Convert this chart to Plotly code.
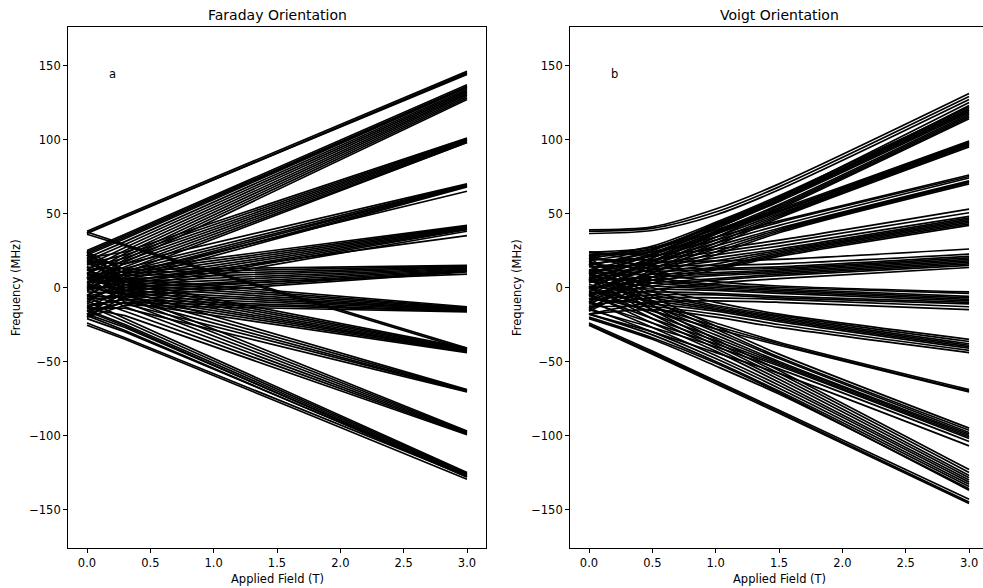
import plotly.graph_objects as go

# ---------------- data ----------------
FIELD_FARADAY = [0.0, 0.3, 3.0]          # Applied field (T)
FIELD_VOIGT = [0.0, 0.5, 1.0, 1.5, 3.0]  # Applied field (T)

# Faraday orientation: frequency (MHz) of each level at FIELD_FARADAY
FARADAY_145 = [[38, 49, 146], [37, 48, 144], [36.5, 47.5, 145]]
FARADAY_CROSS = [[36, 28, -42], [37.5, 29, -41]]
FARADAY_130 = [[25, 36, 137], [24, 35, 136], [23, 34, 135.5], [22, 33, 135], [20, 31, 134],
               [18, 29, 133], [15, 27, 132], [12, 25, 131], [9, 23, 130], [6, 21, 129],
               [3, 19, 128], [0, 17, 127]]
FARADAY_100 = [[20, 24, 101], [16, 22, 100.5], [13, 20, 100], [10, 18, 99.5], [6, 16, 99],
               [2, 14, 98.5], [-2, 12, 98], [-6, 10, 98]]
FARADAY_68 = [[18, 16, 70], [12, 13, 69.5], [6, 11, 69], [0, 9, 69], [-5, 7, 68.5],
              [-10, 5, 68], [4, 9, 65]]
FARADAY_40 = [[22, 12, 42], [16, 10, 41.5], [10, 8, 41], [4, 6, 40.5], [-2, 4, 40],
              [-8, 2, 39.5], [-14, 0, 39], [-18, -2, 38], [8, 4, 35]]
FARADAY_12 = [[24, 12, 15], [19, 10, 14.5], [14, 8, 14], [9, 6, 13.5], [4, 4, 13],
              [-1, 2, 12.5], [-6, 0, 12], [-11, -2, 11.5], [-16, -4, 11], [-20, -6, 10.5],
              [0, 0, 9]]
FARADAY_M14 = [[22, 6, -13], [17, 4, -13.5], [12, 2, -14], [7, 0, -14.5], [2, -2, -15],
               [-3, -4, -15], [-8, -6, -15.5], [-13, -8, -16], [-18, -10, -16], [-20, -12, -16.5]]
FARADAY_M42 = [[24, 4, -41], [18, 2, -41.5], [12, 0, -42], [6, -2, -42.5], [0, -4, -43],
               [-6, -6, -43], [-12, -8, -43.5], [-16, -10, -44]]
FARADAY_M70 = [[20, -2, -69], [10, -5, -69.5], [2, -8, -70], [-6, -11, -70], [-14, -14, -70.5]]
FARADAY_M98 = [[22, -4, -97], [14, -7, -97.5], [7, -10, -98], [0, -13, -98.5],
               [-7, -16, -99], [-14, -19, -99.5]]
FARADAY_M127 = [[-24, -34, -127.5], [-25.5, -35, -129.5], [-21, -30, -127], [-18, -27, -126.5],
                [-15, -25, -126], [-12, -23, -125.5], [-9, -21, -125], [-19, -29, -128],
                [-16, -26, -128]]

# Voigt orientation: frequency (MHz) of each level at FIELD_VOIGT
VOIGT_120 = [[39, 41, 53, 70, 131], [38, 40, 51, 68, 129], [36.5, 38.5, 49, 66, 127],
             [24, 27, 42, 61, 125], [22.5, 26, 40, 59, 123], [21, 28, 44, 62, 122],
             [18, 26, 43, 61, 121], [15, 25, 42, 60, 120], [12, 23, 41, 59, 119],
             [9, 22, 40, 58, 118], [6, 20, 38, 56, 117], [3, 18, 37, 55, 116],
             [0, 17, 36, 54, 115], [-3, 15, 34, 53, 114]]
VOIGT_97 = [[20, 26, 39, 53, 99], [15, 24, 38, 52, 98.5], [10, 22, 37, 51.5, 98],
            [5, 20, 36, 51, 97.5], [0, 18, 34, 50, 97], [-5, 15, 32, 49, 96.5],
            [-10, 12, 30, 48, 96], [-15, 10, 28, 47, 95]]
VOIGT_73 = [[22, 24, 34, 45, 76], [16, 21, 32, 44, 75], [10, 18, 30, 42, 74],
            [4, 16, 28, 40, 72], [-2, 13, 26, 39, 71.5], [-8, 10, 24, 38, 71],
            [-14, 7, 22, 37, 70]]
VOIGT_48 = [[24, 22, 26, 32, 53], [19, 19, 24, 30, 50.5], [14, 16, 22, 28, 48],
            [9, 14, 20, 26, 47], [4, 12, 18, 25, 46], [-1, 9, 16, 24, 45],
            [-6, 7, 14, 23, 44], [-11, 5, 13, 22, 43], [-16, 3, 12, 21, 42]]
VOIGT_20 = [[24, 18, 18, 19, 26], [20, 15, 15, 16, 22.5], [16, 13, 13, 14, 21],
            [12, 11, 12, 13, 20], [8, 9, 10, 12, 19], [4, 7, 9, 11, 18], [0, 5, 8, 10, 17],
            [-4, 3, 6, 9, 16], [-8, 1, 5, 8, 15], [-14, -2, 3, 6, 13.5]]
VOIGT_M8 = [[22, 10, 4, 1, -3], [17, 7, 2, 0, -4], [12, 5, 1, -1, -6], [8, 3, 0, -2, -7],
            [4, 1, -1, -3, -8], [0, -1, -2, -4, -9], [-4, -3, -4, -6, -10],
            [-8, -5, -5, -7, -11], [-12, -7, -7, -8, -13], [-18, -10, -9, -10, -15]]
VOIGT_M40 = [[18, 0, -10, -18, -35], [12, -3, -12, -19, -36.5], [7, -5, -13, -20, -38],
             [2, -7, -14, -21, -39], [-3, -9, -15, -22, -40], [-8, -11, -16, -23, -41],
             [-13, -13, -18, -25, -42.5], [-18, -15, -20, -27, -44]]
VOIGT_M70 = [[6, -10, -24, -37, -69], [0, -13, -26, -38, -70], [-6, -16, -28, -39, -70.5]]
VOIGT_M100 = [[20, -6, -26, -45, -95], [15, -9, -28, -47, -96.5], [10, -12, -30, -48, -98],
              [5, -15, -32, -50, -99], [0, -18, -34, -51, -100], [-5, -21, -36, -52, -101],
              [-10, -24, -38, -53, -102], [-15, -27, -40, -55, -104], [-18, -30, -44, -58, -107]]
VOIGT_M130 = [[16, -12, -35, -56, -123], [11, -15, -37, -58, -125], [6, -18, -39, -60, -127],
              [1, -21, -41, -62, -128.5], [-4, -24, -43, -64, -130], [-9, -27, -46, -66, -131.5],
              [-14, -30, -48, -68, -133], [-18, -32, -50, -70, -134.5], [-21, -35, -53, -72, -136],
              [-20, -34, -51, -71, -137]]
VOIGT_M145 = [[-24, -43, -63, -83, -143], [-25.5, -45, -65, -85, -146], [-25, -44, -64, -84, -145]]

X_TICKS = [0.0, 0.5, 1.0, 1.5, 2.0, 2.5, 3.0]
X_TICK_TEXT = ["0.0", "0.5", "1.0", "1.5", "2.0", "2.5", "3.0"]
Y_TICKS = [-150, -100, -50, 0, 50, 100, 150]
Y_TICK_TEXT = ["\u2212150", "\u2212100", "\u221250", "0", "50", "100", "150"]

FARADAY_GROUPS = [FARADAY_145, FARADAY_CROSS, FARADAY_130, FARADAY_100, FARADAY_68,
                  FARADAY_40, FARADAY_12, FARADAY_M14, FARADAY_M42, FARADAY_M70,
                  FARADAY_M98, FARADAY_M127]
VOIGT_GROUPS = [VOIGT_120, VOIGT_97, VOIGT_73, VOIGT_48, VOIGT_20, VOIGT_M8, VOIGT_M40,
                VOIGT_M70, VOIGT_M100, VOIGT_M130, VOIGT_M145]

# ---------------- figure ----------------
W, H = 983, 588
fig = go.Figure()

for grp in FARADAY_GROUPS:
    for ys in grp:
        fig.add_trace(go.Scatter(x=FIELD_FARADAY, y=ys, mode="lines",
                                 line=dict(color="black", width=1.7),
                                 showlegend=False, hoverinfo="skip", xaxis="x", yaxis="y"))
for grp in VOIGT_GROUPS:
    for ys in grp:
        fig.add_trace(go.Scatter(x=FIELD_VOIGT, y=ys, mode="lines",
                                 line=dict(color="black", width=1.7, shape="spline", smoothing=0.8),
                                 showlegend=False, hoverinfo="skip", xaxis="x2", yaxis="y2"))

FS = 11.5
tick_font = dict(family="DejaVu Sans", size=FS, color="black")
common_x = dict(tickvals=X_TICKS, ticktext=X_TICK_TEXT, ticks="outside", ticklen=4,
                tickwidth=0.9, tickcolor="black", showline=True, linecolor="black",
                linewidth=0.9, showgrid=False, zeroline=False, tickfont=tick_font)
common_y = dict(tickvals=Y_TICKS, ticktext=Y_TICK_TEXT, ticks="outside", ticklen=4,
                tickwidth=0.9, tickcolor="black", showline=True, linecolor="black",
                linewidth=0.9, showgrid=False, zeroline=False, tickfont=tick_font,
                range=[-176, 176])

L1, R1 = 68, 486
L2 = 570
fig.update_layout(
    width=W, height=H,
    margin=dict(l=0, r=0, t=27, b=40),
    paper_bgcolor="white", plot_bgcolor="white",
    font=dict(family="DejaVu Sans", color="black"),
    xaxis=dict(domain=[L1 / W, R1 / W], range=[-0.15, 3.15], mirror=True, anchor="y", **common_x),
    yaxis=dict(domain=[0, 1], mirror=True, anchor="x", **common_y),
    xaxis2=dict(domain=[L2 / W, 1.0], range=[-0.15, 3.11], mirror=True, anchor="y2", **common_x),
    yaxis2=dict(domain=[0, 1], mirror=False, anchor="x2", **common_y),
)

plot_h = H - 27 - 40

def px_x(p):
    return p / W

def px_y(p):
    return (H - 40 - p) / plot_h

annots = [
    dict(text="Faraday Orientation", x=px_x(277), y=px_y(15), font=dict(size=14)),
    dict(text="Voigt Orientation", x=px_x(779), y=px_y(15), font=dict(size=14)),
    dict(text="Applied Field (T)", x=px_x(277), y=px_y(579), font=dict(size=FS)),
    dict(text="Applied Field (T)", x=px_x(779), y=px_y(579), font=dict(size=FS)),
    dict(text="Frequency (MHz)", x=px_x(16), y=px_y(288), font=dict(size=FS), textangle=-90),
    dict(text="Frequency (MHz)", x=px_x(517), y=px_y(288), font=dict(size=FS), textangle=-90),
]
for a in annots:
    fig.add_annotation(xref="paper", yref="paper", showarrow=False,
                       xanchor="center", yanchor="middle", **a)

fig.add_annotation(x=0.2, y=144, xref="x", yref="y", text="a", showarrow=False,
                   xanchor="center", yanchor="middle", font=dict(size=FS))
fig.add_annotation(x=0.2, y=144, xref="x2", yref="y2", text="b", showarrow=False,
                   xanchor="center", yanchor="middle", font=dict(size=FS))

fig.write_html("out.html")
